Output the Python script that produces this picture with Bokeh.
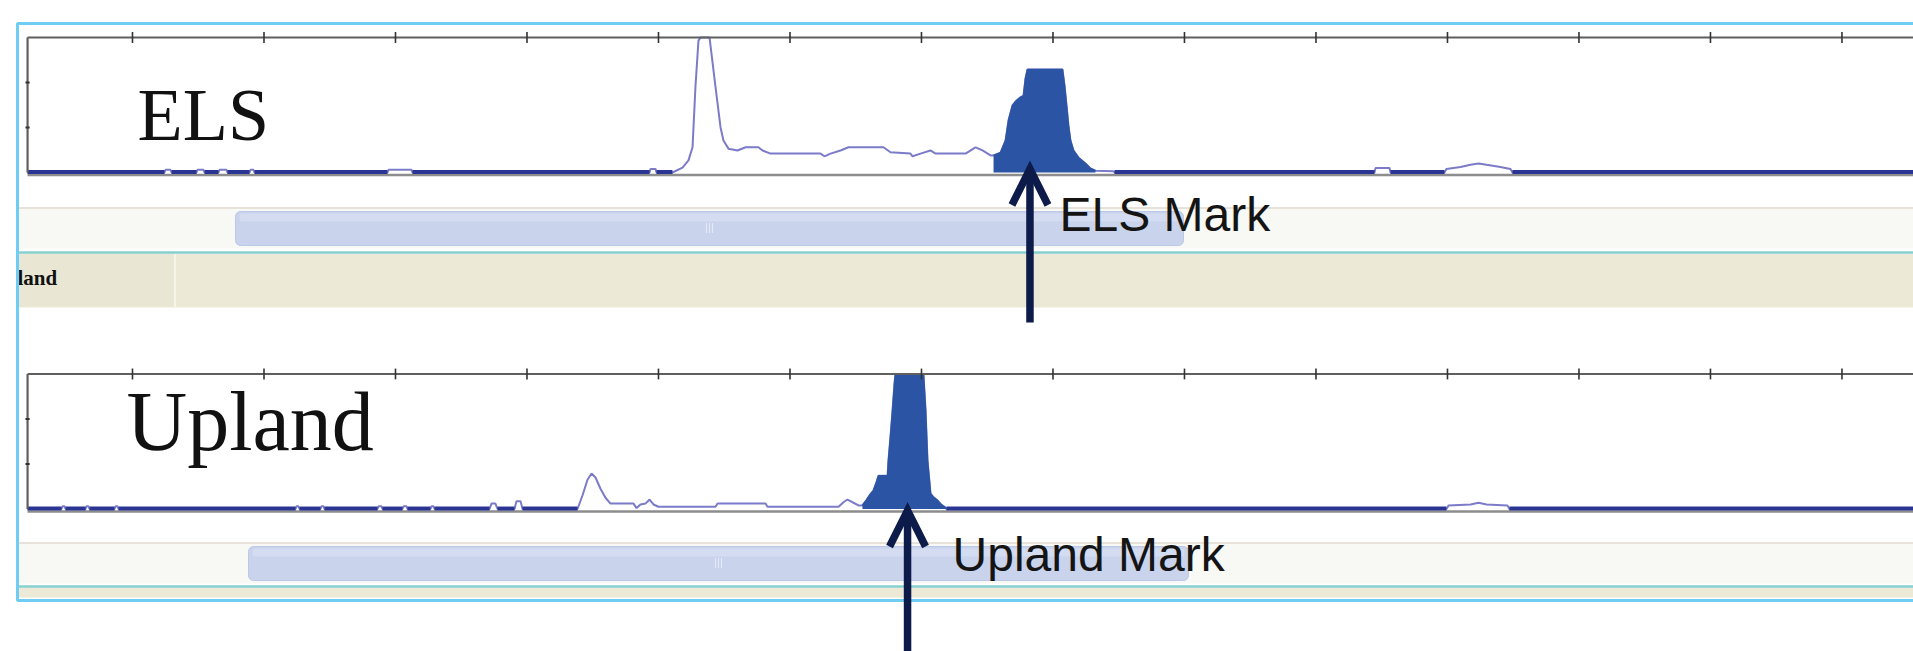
from bokeh.plotting import figure
from bokeh.models import Range1d, Arrow, OpenHead
from bokeh.core.properties import value
from bokeh.embed import file_html
from bokeh.resources import INLINE

# ---------------- data ----------------
# position along the track (one top-axis tick every 100 units), signal (one left tick per unit)
els_pos = [20.2, 124.3, 125.1, 128.9, 129.7, 148.7, 149.4, 154.0, 154.8, 165.4, 166.2, 171.5, 172.2,
           189.0, 189.7, 192.0, 192.8, 293.9, 294.7, 312.2, 312.9, 493.2, 493.9, 497.7, 498.5,
           510.6, 518.3, 522.8, 525.9, 528.1, 530.4, 532.0, 538.8, 543.4, 547.2, 549.4, 553.2,
           560.1, 566.2, 576.0, 579.1, 585.2, 623.2, 626.2, 630.8, 638.4, 644.5, 671.1, 676.4,
           691.6, 693.2, 699.3, 706.8, 710.7, 733.5, 741.1, 746.4, 752.5, 754.8, 760.1, 763.9,
           766.2, 769.2, 772.3, 775.3, 777.6, 779.1, 780.6, 807.2, 808.8, 810.3, 811.8, 813.3,
           815.6, 819.4, 824.7, 828.5, 832.3, 846.0, 846.8, 1044.5, 1045.3, 1055.9, 1056.7,
           1097.7, 1099.2, 1109.9, 1117.5, 1123.6, 1129.7, 1140.3, 1147.9, 1149.4, 1460.0]
els_sig = [0, 0, 0.06, 0.06, 0, 0, 0.06, 0.06, 0, 0, 0.06, 0.06, 0,
           0, 0.06, 0.06, 0, 0, 0.06, 0.06, 0, 0, 0.08, 0.08, 0,
           0, 0.11, 0.27, 0.56, 1.9, 2.93, 3.0, 3.0, 1.89, 1.0, 0.71, 0.53,
           0.49, 0.56, 0.56, 0.49, 0.42, 0.42, 0.36, 0.42, 0.49, 0.56, 0.56, 0.45,
           0.42, 0.36, 0.42, 0.49, 0.42, 0.42, 0.56, 0.49, 0.38, 0.38, 0.44, 0.71,
           1.16, 1.49, 1.6, 1.67, 1.71, 2.09, 2.29, 2.29, 1.93, 1.49, 1.04, 0.71,
           0.49, 0.33, 0.2, 0.09, 0.04, 0.03, 0, 0, 0.1, 0.1, 0,
           0, 0.08, 0.12, 0.17, 0.2, 0.17, 0.12, 0.08, 0, 0]
els_mark = [754.8, 832.3]

upl_pos = [20.2, 46.0, 46.8, 48.3, 49.1, 64.3, 65.0, 66.5, 67.3, 86.3, 87.1, 88.6, 89.4,
           224.0, 224.7, 226.2, 227.0, 243.0, 243.7, 245.3, 246.0, 286.3, 287.1, 289.4, 290.1,
           305.3, 306.1, 308.4, 309.1, 326.6, 327.4, 328.9, 329.7, 371.5, 373.0, 376.0, 377.6,
           390.5, 392.0, 395.1, 396.6, 438.4, 442.2, 446.0, 449.1, 452.1, 455.9, 459.7, 463.5,
           481.0, 483.3, 486.3, 490.1, 493.2, 496.2, 500.0, 543.4, 544.9, 581.4, 582.9, 636.9,
           640.7, 643.7, 647.5, 652.1, 655.1, 658.2, 661.2, 663.5, 665.8, 667.3, 674.2, 674.9,
           676.4, 678.0, 679.5, 680.2, 701.5, 703.1, 704.6, 706.9, 709.2, 712.2, 715.2, 718.3,
           719.0, 1099.2, 1100.8, 1117.5, 1123.6, 1129.7, 1145.6, 1147.1, 1460.0]
upl_sig = [0, 0, 0.06, 0.06, 0, 0, 0.06, 0.06, 0, 0, 0.06, 0.06, 0,
           0, 0.06, 0.06, 0, 0, 0.06, 0.06, 0, 0, 0.06, 0.06, 0,
           0, 0.06, 0.06, 0, 0, 0.06, 0.06, 0, 0, 0.12, 0.12, 0,
           0, 0.17, 0.17, 0, 0, 0.3, 0.65, 0.79, 0.7, 0.45, 0.25, 0.12,
           0.12, 0.02, 0.1, 0.12, 0.21, 0.1, 0.05, 0.05, 0.12, 0.12, 0.05, 0.05,
           0.15, 0.21, 0.15, 0.08, 0.08, 0.2, 0.33, 0.41, 0.6, 0.74, 0.74, 1.08,
           1.6, 2.19, 2.8, 3.0, 3.0, 2.2, 1.08, 0.34, 0.26, 0.19, 0.09, 0.03,
           0, 0, 0.08, 0.1, 0.14, 0.1, 0.08, 0, 0]
upl_mark = [655.1, 719.0]

tick_pos = [100, 200, 300, 400, 500, 600, 700, 800, 900, 1000, 1100, 1200, 1300, 1400]
left_ticks = [1, 2]
signal_top = 3
track_names = ["ELS", "Upland"]
mark_names = ["ELS Mark", "Upland Mark"]
mark_arrow_pos = [782.5, 689.4]
side_label = "land"

# ---------------- layout / style ----------------
X_START, X_END = -0.38, 1454.4
AXIS_LEFT = 20.2
NAVY = "#2a3593"
LAV = "#7b7bc9"
FILL = "#2b55a4"
AXIS_C = "#5f5f5f"
ARROW_C = "#0d1b4a"

p = figure(width=1913, height=651, output_backend="svg", toolbar_location=None,
           x_range=Range1d(X_START, X_END), y_range=Range1d(-10.644, 3.822),
           x_axis_location=None, y_axis_location=None, min_border=0,
           outline_line_color=None, background_fill_color="white", border_fill_color="white")
p.grid.visible = False
p.extra_x_ranges = {"px": Range1d(0, 1913)}
p.extra_y_ranges = {"upl": Range1d(-3.167, 11.3), "px": Range1d(651, 0)}
PX = dict(x_range_name="px", y_range_name="px")

# ---- window chrome (screen-like bands) ----
for top, bot, thumb_l, thumb_r in [(207, 248, 235, 1183), (542, 583, 248, 1188)]:
    p.quad(left=17, right=1940, top=top, bottom=bot, fill_color="#f8f8f4", line_color=None, **PX)
    p.line([17, 1940], [top + 0.5, top + 0.5], line_color="#e0dbcf", line_width=1.5, **PX)
    p.quad(left=thumb_l, right=thumb_r, top=top + 4, bottom=bot - 3, border_radius=5,
           fill_color="#c9d3ec", line_color="#bcc8e6", line_width=1, **PX)
    p.quad(left=thumb_l + 4, right=thumb_r - 4, top=top + 6, bottom=top + 14, border_radius=3,
           fill_color="#d3dcf1", line_color=None, **PX)
    cx = (thumb_l + thumb_r) / 2
    cy = (top + bot) / 2
    p.segment([cx - 3, cx, cx + 3], [cy - 5] * 3, [cx - 3, cx, cx + 3], [cy + 5] * 3,
              line_color="#e4e9f6", line_width=1, **PX)
# teal separators and beige bands
p.quad(left=17, right=1940, top=253, bottom=307, fill_color="#ecead7", line_color=None, **PX)
p.quad(left=17, right=173, top=253, bottom=306, fill_color="#e9e7d3", line_color=None, **PX)
p.line([174.5, 174.5], [253, 307], line_color="#f6f5ec", line_width=2, **PX)
p.line([17, 1940], [252, 252], line_color="#86d0d0", line_width=2.5, **PX)
p.quad(left=17, right=1940, top=587, bottom=597, fill_color="#ecead7", line_color=None, **PX)
p.line([17, 1940], [586, 586], line_color="#86d0d0", line_width=2.5, **PX)
p.text(x=[17], y=[277], text=[side_label], text_font=value("Liberation Serif"),
       text_font_style="bold", text_font_size="21px", text_color="#111111",
       text_baseline="alphabetic", **PX)


def draw_track(pos, sig, mark, yname):
    kw = {} if yname is None else {"y_range_name": yname}
    # axis baseline (gray, visible where the trace is above zero)
    p.line([AXIS_LEFT, X_END + 10], [-0.055, -0.055], line_color="#8d8d8d", line_width=2.5, **kw)
    # full trace
    p.line(pos, sig, line_color=LAV, line_width=2, **kw)
    # zero-valued stretches drawn heavy navy
    x0s, x1s = [], []
    for i in range(len(pos) - 1):
        if sig[i] == 0 and sig[i + 1] == 0:
            x0s.append(pos[i])
            x1s.append(pos[i + 1])
    p.segment(x0s, [0.01] * len(x0s), x1s, [0.01] * len(x1s), line_color=NAVY, line_width=4, **kw)
    # highlighted mark region
    mx = [x for x in pos if mark[0] <= x <= mark[1]]
    my = [s for x, s in zip(pos, sig) if mark[0] <= x <= mark[1]]
    p.varea(x=mx, y1=[0] * len(mx), y2=my, fill_color=FILL, **kw)
    p.line(mx, my, line_color=FILL, line_width=1.5, **kw)
    # panel axes
    p.line([AXIS_LEFT, X_END + 10], [signal_top, signal_top], line_color=AXIS_C, line_width=2.2, **kw)
    p.line([AXIS_LEFT, AXIS_LEFT], [0, signal_top], line_color=AXIS_C, line_width=2.2, **kw)
    n = len(tick_pos)
    p.segment(tick_pos, [signal_top - 0.12] * n, tick_pos, [signal_top + 0.12] * n,
              line_color="#333333", line_width=1.6, **kw)
    m = len(left_ticks)
    p.segment([AXIS_LEFT - 1.6] * m, left_ticks, [AXIS_LEFT + 1.6] * m, left_ticks,
              line_color="#333333", line_width=2, **kw)


draw_track(els_pos, els_sig, els_mark, None)
draw_track(upl_pos, upl_sig, upl_mark, "upl")

# track titles
p.text(x=[103.8], y=[1.27], text=[track_names[0]], text_font=value("Liberation Serif"),
       text_font_size="74px", text_color="#111111", text_baseline="alphabetic")
p.text(x=[95.5], y=[1.94], text=[track_names[1]], text_font=value("Liberation Serif"),
       text_font_size="84px", text_color="#111111", text_baseline="alphabetic", y_range_name="upl")

# mark labels
p.text(x=[805.0], y=[-0.925], text=[mark_names[0]], text_font=value("Liberation Sans"),
       text_font_size="48px", text_color="#141414", text_baseline="alphabetic")
p.text(x=[723.6], y=[-1.005], text=[mark_names[1]], text_font=value("Liberation Sans"),
       text_font_size="48px", text_color="#141414", text_baseline="alphabetic", y_range_name="upl")

# outer window border
p.quad(left=17, right=1960, top=23, bottom=600, fill_color=None, line_color="#6dcdf2",
       line_width=3, **PX)

# arrows pointing at the marks
p.add_layout(Arrow(end=OpenHead(size=36, line_width=7.5, line_color=ARROW_C, line_join="miter"),
                   x_start=mark_arrow_pos[0], y_start=-3.333, x_end=mark_arrow_pos[0], y_end=0.078,
                   line_width=7.5, line_color=ARROW_C))
p.add_layout(Arrow(end=OpenHead(size=36, line_width=7.5, line_color=ARROW_C, line_join="miter"),
                   x_start=mark_arrow_pos[1], y_start=-3.6, x_end=mark_arrow_pos[1], y_end=-0.033,
                   line_width=7.5, line_color=ARROW_C, y_range_name="upl"))

open("out.html", "w").write(file_html(p, INLINE))
